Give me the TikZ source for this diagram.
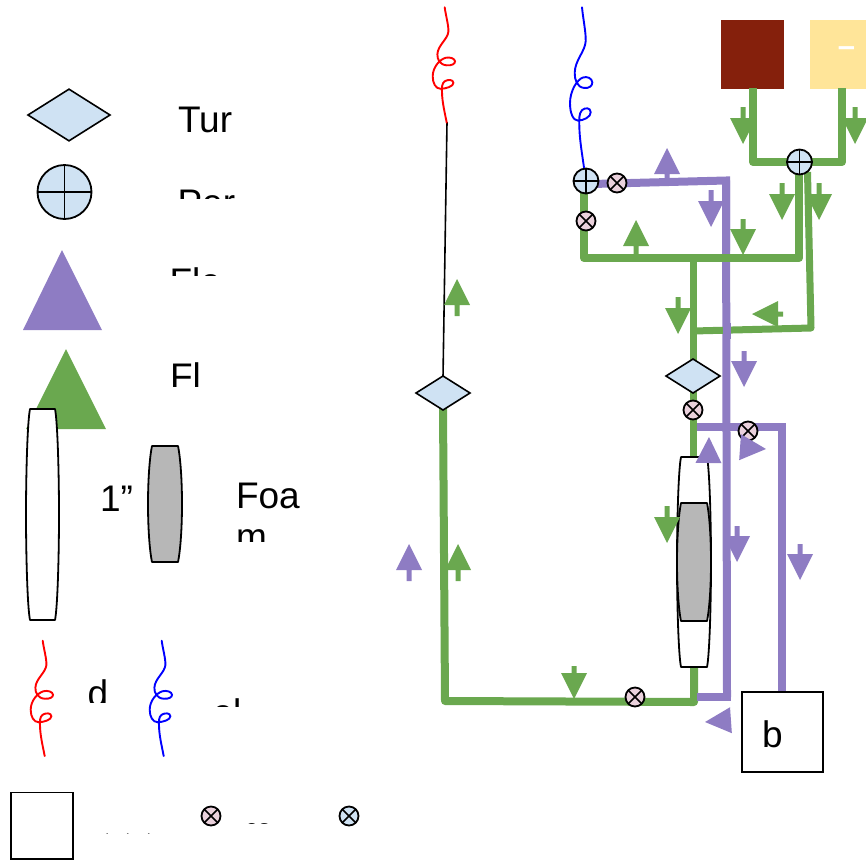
\documentclass[tikz,border=0pt]{standalone}
\usepackage{fontspec}
\setmainfont{Liberation Sans}
\usetikzlibrary{shapes.geometric}
\definecolor{pipegreen}{HTML}{6AA84F}
\definecolor{pipepurple}{HTML}{8E7CC3}
\definecolor{partblue}{HTML}{CFE2F3}
\definecolor{valvepink}{HTML}{EAD1DC}
\definecolor{brownbox}{HTML}{85200C}
\definecolor{yellowbox}{HTML}{FFE599}
\definecolor{foamgray}{HTML}{B7B7B7}
\newcommand{\flowarrow}[5]{% x y rotation colour stem-end
  \fill[#4,shift={(#1,#2)},rotate=#3] (0,0) -- (13,26) -- (2.5,26) -- (2.5,#5) -- (-2.5,#5) -- (-2.5,26) -- (-13,26) -- cycle;}
\newcommand{\lensbody}[5]{% x0 x1 top bottom fill
  \draw[black,line width=1.8,fill=#5,line join=round]
   ({#1+4},#3) -- ({#2-4},#3)
   .. controls ({#2-1.5},{#3+12}) and (#2,{#3+(#4-#3)*0.3}) .. (#2,{(#3+#4)/2})
   .. controls (#2,{#4-(#4-#3)*0.3}) and ({#2-1.5},{#4-12}) .. ({#2-4},#4)
   -- ({#1+4},#4)
   .. controls ({#1+1.5},{#4-12}) and (#1,{#4-(#4-#3)*0.3}) .. (#1,{(#3+#4)/2})
   .. controls (#1,{#3+(#4-#3)*0.3}) and ({#1+1.5},{#3+12}) .. ({#1+4},#3) -- cycle;}
\newcommand{\coilwire}[4]{% x y colour yscale
  \begin{scope}[shift={(#1,#2)},yscale=#4]
  \draw[#3,line width=1.9,line cap=round] (0,0)
   .. controls (1,8) and (4,18) .. (3.7,24.3)
   .. controls (3,32) and (-7,38) .. (-7.3,47)
   .. controls (-7.5,52) and (-5,57.5) .. (2,58)
   .. controls (7,58.5) and (10.5,56.5) .. (10.3,54)
   .. controls (10,51) and (5,49.5) .. (1,50.5)
   .. controls (-5,52) and (-12,60) .. (-12,69)
   .. controls (-12,76) and (-9,81.5) .. (-4,81.5)
   .. controls (1,81.5) and (9,79) .. (8.7,75.5)
   .. controls (8.5,72) and (3,72) .. (0,74)
   .. controls (-3,76) and (-3,81) .. (-2.7,85)
   .. controls (-2.5,95) and (0,105) .. (2,115.3);
  \end{scope}}
\newcommand{\clippedlabel}[6]{% name x baseline clip-bottom size text
  \begin{scope}\clip (0,0) rectangle (866,#4);
  \node[lab,font=\fontsize{#5}{#5}\selectfont] (#1) at (#2,#3) {#6};
  \end{scope}}
\tikzset{
  lab/.style={anchor=base west,inner sep=0,outer sep=0,text=black},
  turbine/.style={diamond,draw=black,line width=1.6,fill=partblue,inner sep=0,outer sep=0,aspect=1.6,minimum width=#1,minimum height={#1*0.63}},
  perf/.style={circle,draw=black,line width=1.8,fill=partblue,inner sep=0,outer sep=0,minimum size=#1,
    path picture={\draw[black,line width=1.6] (path picture bounding box.north)--(path picture bounding box.south) (path picture bounding box.west)--(path picture bounding box.east);}},
  valve/.style={circle,draw=black,line width=1.8,fill=#1,inner sep=0,outer sep=0,minimum size=19,
    path picture={\draw[black,line width=1.5] (path picture bounding box.center)+(-7,-7)--+(7,7) (path picture bounding box.center)+(-7,7)--+(7,-7);}},
  gpipe/.style={pipegreen,line width=8,line join=round},
  ppipe/.style={pipepurple,line width=8,line join=miter},
  squarebox/.style={draw=black,line width=1.6,fill=white,inner sep=0,outer sep=0},
}
\begin{document}
\begin{tikzpicture}[x=1pt,y=-1pt]
\useasboundingbox (0,0) rectangle (866,860);
% named way points
\coordinate (rA) at (753,88); \coordinate (rB) at (753,162); \coordinate (rC) at (842,162); \coordinate (rD) at (842,88);
\coordinate (mA) at (584,190); \coordinate (mB) at (584,258); \coordinate (mC) at (799,258); \coordinate (mD) at (799,172);
\coordinate (sA) at (807.5,172); \coordinate (sB) at (811,328); \coordinate (sC) at (693,331);
\coordinate (cA) at (693,258); \coordinate (cB) at (693,362); \coordinate (cC) at (693,392); \coordinate (cD) at (693,460);
\coordinate (bA) at (694,665); \coordinate (bB) at (694,702); \coordinate (bC) at (445,701); \coordinate (bD) at (443,408);
\coordinate (uA) at (592,184); \coordinate (uB) at (726,180.5); \coordinate (uC) at (727,697); \coordinate (uD) at (697,697);
\coordinate (oA) at (697,427); \coordinate (oB) at (782,427); \coordinate (oC) at (782,693);
\coordinate (wA) at (447,122);
% boxes
\fill[brownbox] (721,20) rectangle (784,89);
\fill[yellowbox] (810,20) rectangle (866,89);
\node[font=\fontsize{31}{31}\selectfont\bfseries,text=white,inner sep=0] (dash) at (846.5,52) {–};
% legend shapes
\fill[pipepurple] (62,250) -- (102,330) -- (23,330) -- cycle;
\fill[pipegreen] (66,349) -- (106,429) -- (26,429) -- cycle;
% pipes, purple below the mid green run
\draw[ppipe] (uC) -- (uB);
\draw[gpipe] (rA) -- (rB) -- (rC) -- (rD);
\draw[gpipe] (mA) -- (mB) -- (mC) -- (mD);
\draw[gpipe,line width=7] (sA) -- (sB) -- (sC);
\draw[gpipe,line width=7] (cA) -- (cB);
\draw[gpipe,line width=7] (cC) -- (cD);
\draw[gpipe] (bA) -- (bB) -- (bC) -- (bD);
\draw[ppipe] (uC |- sC) ++(0,-8) -- ++(0,16);
\draw[ppipe] (uA) -- (uB) -- ++(0,70);
\draw[ppipe] (uD) -- (uC) -- ++(0,-40);
\draw[ppipe] (oA) -- (oB) -- (oC);
\draw[black,line width=1.6] (wA) -- (443,377);
% coils
\coilwire{444.7}{7.3}{red}{1}
\coilwire{582}{7.3}{blue}{1.39}
\coilwire{42.7}{640.7}{red}{1}
\coilwire{161.7}{640.7}{blue}{1}
% lenses
\lensbody{26}{59}{409}{620}{white}
\lensbody{148}{182}{446}{562}{foamgray}
\lensbody{677}{711}{457}{667}{white}
\lensbody{677}{711}{503}{621}{foamgray}
% parts
\node[turbine=82] (tLegend) at (69,115) {};
\node[turbine=54] (tLeft) at (443,393) {};
\node[turbine=54] (tRight) at (693,376) {};
\node[perf=54] (pLegend) at (64.5,192) {};
\node[perf=25] (pLeft) at (586,181) {};
\node[perf=25] (pRight) at (799.5,162) {};
\node[valve=valvepink] (vA) at (617,183) {};
\node[valve=valvepink] (vB) at (586,221) {};
\node[valve=valvepink] (vC) at (693,410) {};
\node[valve=valvepink] (vD) at (748,431) {};
\node[valve=valvepink] (vE) at (635,697) {};
\node[valve=valvepink] (vF) at (211,816) {};
\node[valve=partblue] (vG) at (349,816) {};
% square boxes
\draw[squarebox] (742,692) rectangle (823,772);
\draw[squarebox] (11,792.5) rectangle (73,859);
% green flow arrows
\flowarrow{743}{144}{180}{pipegreen}{37}
\flowarrow{855}{144}{180}{pipegreen}{37}
\flowarrow{782}{220}{180}{pipegreen}{37}
\flowarrow{819}{220}{180}{pipegreen}{37}
\flowarrow{743}{255}{180}{pipegreen}{36}
\flowarrow{678}{334}{180}{pipegreen}{37}
\flowarrow{667}{543}{180}{pipegreen}{37}
\flowarrow{574}{699}{180}{pipegreen}{33}
\flowarrow{636}{220}{0}{pipegreen}{37}
\flowarrow{457}{279}{0}{pipegreen}{37}
\flowarrow{458}{544}{0}{pipegreen}{37}
\flowarrow{752}{314}{90}{pipegreen}{31}
% purple flow arrows
\flowarrow{667}{148}{0}{pipepurple}{32}
\flowarrow{409}{544}{0}{pipepurple}{37}
\flowarrow{709}{437}{-1}{pipepurple}{26}
\flowarrow{711}{227}{180}{pipepurple}{37}
\flowarrow{744}{387}{180}{pipepurple}{36}
\flowarrow{737}{562}{180}{pipepurple}{36}
\flowarrow{800}{580}{180}{pipepurple}{36}
\flowarrow{766}{449}{-94}{pipepurple}{26}
\flowarrow{705}{722}{94}{pipepurple}{26}
% labels
\node[lab,font=\fontsize{37}{37}\selectfont] (tur) at (178,132) {Tur};
\clippedlabel{per}{177.5}{215.5}{198}{37}{Per}
\clippedlabel{fle}{169.5}{294.5}{275}{37}{Fle}
\clippedlabel{fl}{170}{389}{386}{37}{Fl}
\node[lab,font=\fontsize{37}{37}\selectfont] (inch) at (100,511.5) {1”};
\node[lab,font=\fontsize{37}{37}\selectfont] (foa) at (236,508) {Foa};
\clippedlabel{foam}{236}{549}{541}{37}{m}
\clippedlabel{dd}{87.5}{706.5}{702}{37}{d}
\clippedlabel{el}{212.5}{725}{706.6}{37}{el}
\clippedlabel{es}{245}{836}{823.6}{24}{es}
\clippedlabel{ttt}{104}{849}{833.4}{24}{\makebox[20.7pt][l]{t}\makebox[21pt][l]{t}t}
\node[lab,font=\fontsize{37}{37}\selectfont] (bb) at (762,747) {b};
\end{tikzpicture}
\end{document}
